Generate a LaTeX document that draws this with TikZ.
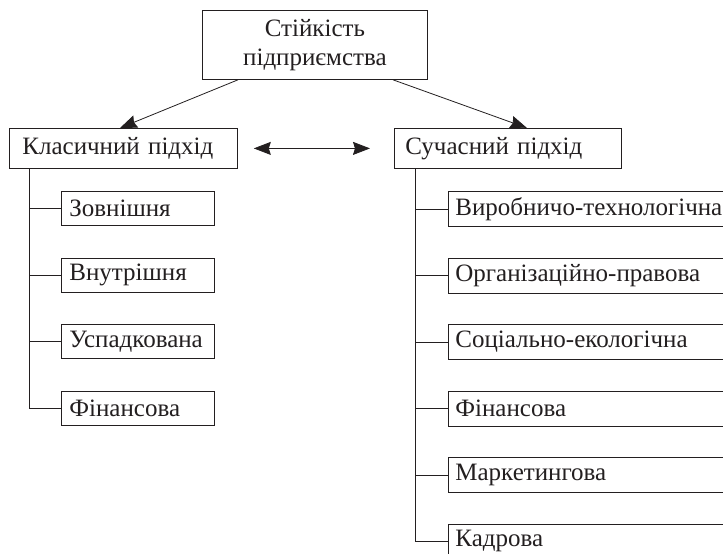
\documentclass[tikz,border=0pt]{standalone}
\usepackage{fontspec}
\setmainfont{Liberation Serif}
\usetikzlibrary{arrows.meta,calc}
\definecolor{ink}{RGB}{35,31,32}
\begin{document}
\begin{tikzpicture}[x=1pt,y=-1pt,
  box/.style={draw=ink, line width=0.8pt, text=ink, anchor=north west,
    inner ysep=0pt, align=left, font=\fontsize{25}{28.5}\selectfont},
  leftchild/.style={box, inner xsep=8pt, text width=137pt, minimum height=34pt},
  rightchild/.style={box, inner xsep=7pt, text width=306pt, minimum height=35pt},
  conn/.style={draw=ink, line width=0.8pt},
  arr/.style={conn, -{Stealth[length=17pt,width=13pt,inset=2pt]}},
  darr/.style={conn, {Stealth[length=17pt,width=13pt,inset=2pt]}-{Stealth[length=17pt,width=13pt,inset=2pt]}}]
\useasboundingbox (0,0) rectangle (723,554);
\clip (0,0) rectangle (723,554);
\fill[white] (0,0) rectangle (723,554);

\node[box, align=center, inner xsep=8pt, text width=209pt, minimum height=69pt] (top) at (202,10) {Стійкість\\підприємства};
\node[box, inner xsep=13pt, text width=202pt, minimum height=40pt] (kl) at (9,128) {Класичний підхід};
\node[box, inner xsep=11pt, text width=205pt, minimum height=40pt] (su) at (394,128) {Сучасний підхід};

\node[leftchild] (l1) at (61,191) {Зовнішня};
\node[leftchild] (l2) at (61,257.5) {Внутрішня};
\node[leftchild] (l3) at (61,324) {Успадкована};
\node[leftchild] (l4) at (61,390.5) {Фінансова};

\node[rightchild] (r1) at (448,191) {Виробничо-технологічна};
\node[rightchild] (r2) at (448,257.5) {Організаційно-правова};
\node[rightchild] (r3) at (448,324) {Соціально-екологічна};
\node[rightchild] (r4) at (448,390.5) {Фінансова};
\node[rightchild] (r5) at (448,457) {Маркетингова};
\node[rightchild] (r6) at (448,523.5) {Кадрова};

\coordinate (a1) at ($(top.south west)+(36,0)$);
\coordinate (a2) at ($(top.south west)+(191,0)$);
\draw[arr] (a1) -- ($(kl.north west)+(111,0)$);
\draw[arr] (a2) -- ($(su.north west)+(133,0)$);
\draw[darr] ($(kl.east)+(16,0)$) -- ($(su.west)+(-24,0)$);

\coordinate (kb) at ($(kl.south west)+(20,0)$);
\coordinate (sb) at ($(su.south west)+(21,0)$);
\foreach \c in {l1,l2,l3,l4} \draw[conn] (kb) |- (\c.west);
\foreach \c in {r1,r2,r3,r4,r5,r6} \draw[conn] (sb) |- (\c.west);
\end{tikzpicture}
\end{document}
